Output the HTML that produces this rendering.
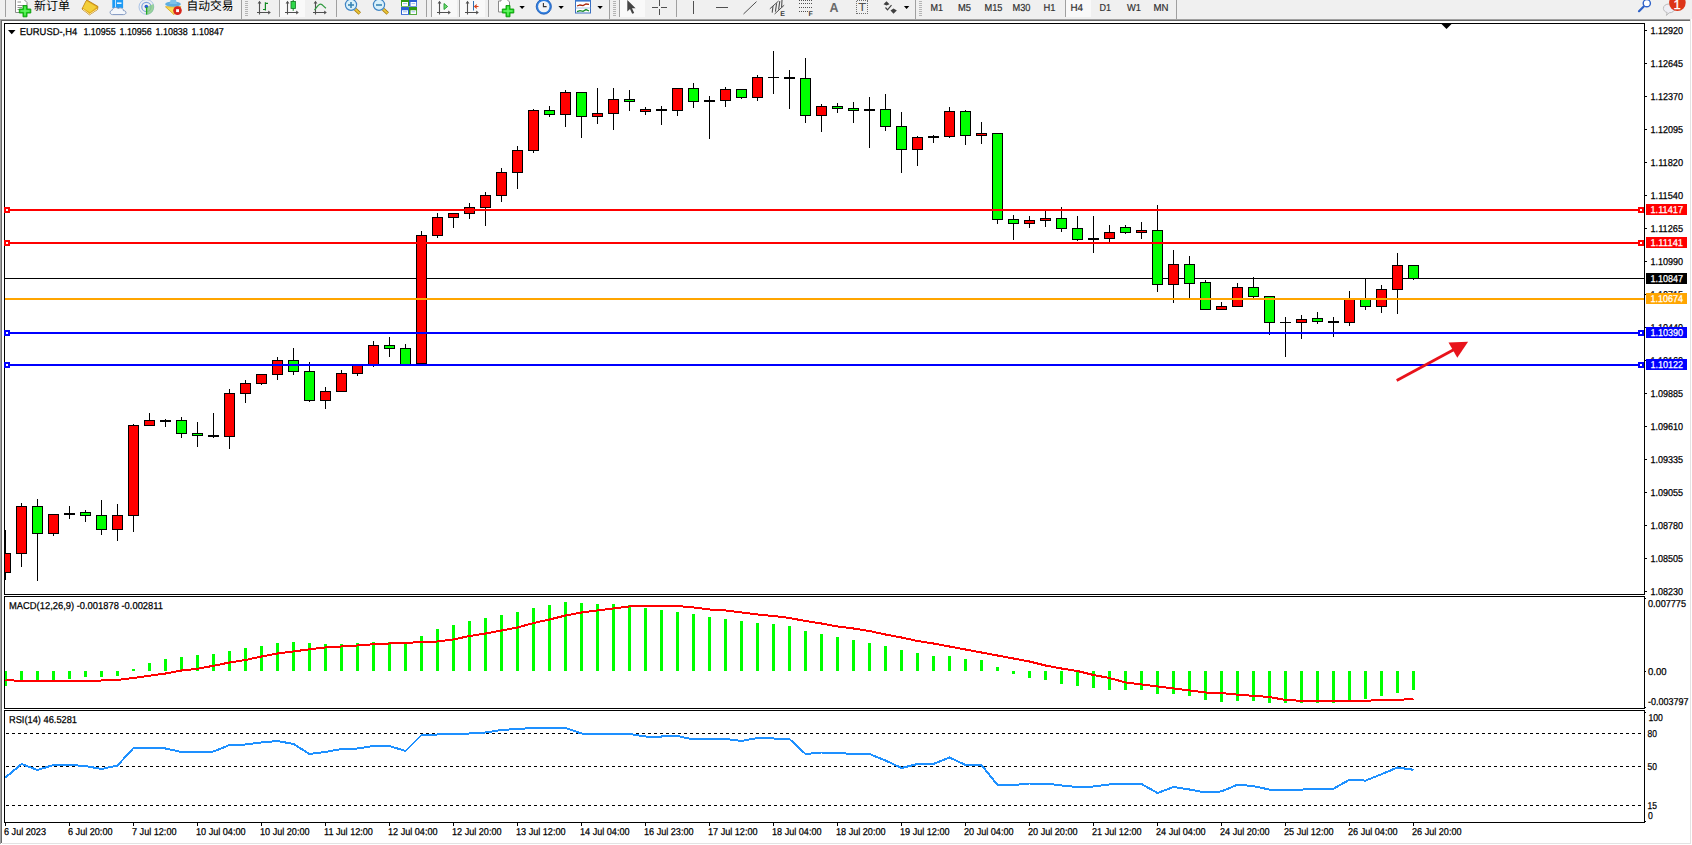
<!DOCTYPE html>
<html lang="zh"><head><meta charset="utf-8"><title>EURUSD-,H4</title>
<style>
html,body{margin:0;padding:0;background:#fff;overflow:hidden}
body{width:1692px;height:845px}
svg{display:block;font-family:"Liberation Sans","Noto Sans CJK SC",sans-serif}
#c rect,#c line,#c polyline{shape-rendering:crispEdges}
text{text-rendering:geometricPrecision}
#c text{stroke:currentColor;stroke-width:.25px}
</style></head><body>
<svg width="1692" height="845" viewBox="0 0 1692 845">
<g id="c">
<rect x="0" y="0" width="1692" height="845" fill="#fff"/>
<rect x="0" y="0" width="1692" height="19" fill="#f0f0f0"/>
<rect x="0" y="19" width="1690" height="1" fill="#a0a0a0"/>
<rect x="0" y="20" width="1690" height="1" fill="#696969"/>
<rect x="0" y="19" width="1" height="825" fill="#a0a0a0"/>
<rect x="1" y="20" width="1" height="823" fill="#696969"/>
<rect x="1690" y="19" width="1" height="825" fill="#e3e3e3"/>
<rect x="2" y="843" width="1689" height="1" fill="#e3e3e3"/>
<rect x="4" y="23" width="1641" height="1" fill="#000"/>
<rect x="4" y="23" width="1" height="572" fill="#000"/>
<rect x="4" y="596" width="1" height="113" fill="#000"/>
<rect x="4" y="710" width="1" height="113" fill="#000"/>
<rect x="1644" y="23" width="1" height="572" fill="#000"/>
<rect x="1644" y="596" width="1" height="113" fill="#000"/>
<rect x="1644" y="710" width="1" height="113" fill="#000"/>
<rect x="4" y="594" width="1641" height="1" fill="#000"/>
<rect x="4" y="596" width="1641" height="1" fill="#000"/>
<rect x="4" y="708" width="1641" height="1" fill="#000"/>
<rect x="4" y="710" width="1641" height="1" fill="#000"/>
<rect x="4" y="822" width="1641" height="1" fill="#000"/>
<rect x="5" y="278" width="1639" height="1" fill="#000"/>
<g id="candles">
<rect x="5" y="530" width="1" height="50" fill="#000"/>
<rect x="5" y="553" width="6" height="20" fill="#000"/>
<rect x="5" y="554" width="5" height="18" fill="#ff0000"/>
<rect x="21" y="503" width="1" height="64" fill="#000"/>
<rect x="16" y="506" width="11" height="48" fill="#000"/>
<rect x="17" y="507" width="9" height="46" fill="#ff0000"/>
<rect x="37" y="499" width="1" height="82" fill="#000"/>
<rect x="32" y="506" width="11" height="28" fill="#000"/>
<rect x="33" y="507" width="9" height="26" fill="#00ff00"/>
<rect x="53" y="514" width="1" height="22" fill="#000"/>
<rect x="48" y="514" width="11" height="20" fill="#000"/>
<rect x="49" y="515" width="9" height="18" fill="#ff0000"/>
<rect x="69" y="506" width="1" height="13" fill="#000"/>
<rect x="64" y="513" width="11" height="2" fill="#000"/>
<rect x="85" y="510" width="1" height="12" fill="#000"/>
<rect x="80" y="512" width="11" height="4" fill="#000"/>
<rect x="81" y="513" width="9" height="2" fill="#00ff00"/>
<rect x="101" y="500" width="1" height="35" fill="#000"/>
<rect x="96" y="515" width="11" height="15" fill="#000"/>
<rect x="97" y="516" width="9" height="13" fill="#00ff00"/>
<rect x="117" y="504" width="1" height="37" fill="#000"/>
<rect x="112" y="515" width="11" height="15" fill="#000"/>
<rect x="113" y="516" width="9" height="13" fill="#ff0000"/>
<rect x="133" y="424" width="1" height="108" fill="#000"/>
<rect x="128" y="425" width="11" height="91" fill="#000"/>
<rect x="129" y="426" width="9" height="89" fill="#ff0000"/>
<rect x="149" y="413" width="1" height="13" fill="#000"/>
<rect x="144" y="420" width="11" height="6" fill="#000"/>
<rect x="145" y="421" width="9" height="4" fill="#ff0000"/>
<rect x="165" y="419" width="1" height="8" fill="#000"/>
<rect x="160" y="420" width="11" height="2" fill="#000"/>
<rect x="181" y="417" width="1" height="21" fill="#000"/>
<rect x="176" y="420" width="11" height="14" fill="#000"/>
<rect x="177" y="421" width="9" height="12" fill="#00ff00"/>
<rect x="197" y="422" width="1" height="25" fill="#000"/>
<rect x="192" y="433" width="11" height="3" fill="#000"/>
<rect x="193" y="434" width="9" height="1" fill="#00ff00"/>
<rect x="213" y="413" width="1" height="25" fill="#000"/>
<rect x="208" y="435" width="11" height="2" fill="#000"/>
<rect x="229" y="389" width="1" height="60" fill="#000"/>
<rect x="224" y="393" width="11" height="44" fill="#000"/>
<rect x="225" y="394" width="9" height="42" fill="#ff0000"/>
<rect x="245" y="380" width="1" height="23" fill="#000"/>
<rect x="240" y="383" width="11" height="11" fill="#000"/>
<rect x="241" y="384" width="9" height="9" fill="#ff0000"/>
<rect x="261" y="374" width="1" height="11" fill="#000"/>
<rect x="256" y="374" width="11" height="10" fill="#000"/>
<rect x="257" y="375" width="9" height="8" fill="#ff0000"/>
<rect x="277" y="357" width="1" height="23" fill="#000"/>
<rect x="272" y="360" width="11" height="15" fill="#000"/>
<rect x="273" y="361" width="9" height="13" fill="#ff0000"/>
<rect x="293" y="348" width="1" height="27" fill="#000"/>
<rect x="288" y="360" width="11" height="12" fill="#000"/>
<rect x="289" y="361" width="9" height="10" fill="#00ff00"/>
<rect x="309" y="362" width="1" height="40" fill="#000"/>
<rect x="304" y="371" width="11" height="30" fill="#000"/>
<rect x="305" y="372" width="9" height="28" fill="#00ff00"/>
<rect x="325" y="387" width="1" height="22" fill="#000"/>
<rect x="320" y="391" width="11" height="10" fill="#000"/>
<rect x="321" y="392" width="9" height="8" fill="#ff0000"/>
<rect x="341" y="370" width="1" height="22" fill="#000"/>
<rect x="336" y="373" width="11" height="19" fill="#000"/>
<rect x="337" y="374" width="9" height="17" fill="#ff0000"/>
<rect x="357" y="364" width="1" height="12" fill="#000"/>
<rect x="352" y="364" width="11" height="10" fill="#000"/>
<rect x="353" y="365" width="9" height="8" fill="#ff0000"/>
<rect x="373" y="341" width="1" height="26" fill="#000"/>
<rect x="368" y="345" width="11" height="20" fill="#000"/>
<rect x="369" y="346" width="9" height="18" fill="#ff0000"/>
<rect x="389" y="337" width="1" height="20" fill="#000"/>
<rect x="384" y="345" width="11" height="4" fill="#000"/>
<rect x="385" y="346" width="9" height="2" fill="#00ff00"/>
<rect x="405" y="344" width="1" height="21" fill="#000"/>
<rect x="400" y="348" width="11" height="17" fill="#000"/>
<rect x="401" y="349" width="9" height="15" fill="#00ff00"/>
<rect x="421" y="231" width="1" height="133" fill="#000"/>
<rect x="416" y="235" width="11" height="129" fill="#000"/>
<rect x="417" y="236" width="9" height="127" fill="#ff0000"/>
<rect x="437" y="213" width="1" height="25" fill="#000"/>
<rect x="432" y="217" width="11" height="19" fill="#000"/>
<rect x="433" y="218" width="9" height="17" fill="#ff0000"/>
<rect x="453" y="213" width="1" height="15" fill="#000"/>
<rect x="448" y="213" width="11" height="5" fill="#000"/>
<rect x="449" y="214" width="9" height="3" fill="#ff0000"/>
<rect x="469" y="203" width="1" height="16" fill="#000"/>
<rect x="464" y="207" width="11" height="7" fill="#000"/>
<rect x="465" y="208" width="9" height="5" fill="#ff0000"/>
<rect x="485" y="192" width="1" height="34" fill="#000"/>
<rect x="480" y="195" width="11" height="13" fill="#000"/>
<rect x="481" y="196" width="9" height="11" fill="#ff0000"/>
<rect x="501" y="168" width="1" height="34" fill="#000"/>
<rect x="496" y="172" width="11" height="24" fill="#000"/>
<rect x="497" y="173" width="9" height="22" fill="#ff0000"/>
<rect x="517" y="146" width="1" height="43" fill="#000"/>
<rect x="512" y="150" width="11" height="23" fill="#000"/>
<rect x="513" y="151" width="9" height="21" fill="#ff0000"/>
<rect x="533" y="109" width="1" height="44" fill="#000"/>
<rect x="528" y="110" width="11" height="41" fill="#000"/>
<rect x="529" y="111" width="9" height="39" fill="#ff0000"/>
<rect x="549" y="106" width="1" height="11" fill="#000"/>
<rect x="544" y="110" width="11" height="5" fill="#000"/>
<rect x="545" y="111" width="9" height="3" fill="#00ff00"/>
<rect x="565" y="90" width="1" height="37" fill="#000"/>
<rect x="560" y="92" width="11" height="23" fill="#000"/>
<rect x="561" y="93" width="9" height="21" fill="#ff0000"/>
<rect x="581" y="92" width="1" height="46" fill="#000"/>
<rect x="576" y="92" width="11" height="25" fill="#000"/>
<rect x="577" y="93" width="9" height="23" fill="#00ff00"/>
<rect x="597" y="88" width="1" height="36" fill="#000"/>
<rect x="592" y="113" width="11" height="4" fill="#000"/>
<rect x="593" y="114" width="9" height="2" fill="#ff0000"/>
<rect x="613" y="88" width="1" height="42" fill="#000"/>
<rect x="608" y="99" width="11" height="15" fill="#000"/>
<rect x="609" y="100" width="9" height="13" fill="#ff0000"/>
<rect x="629" y="90" width="1" height="21" fill="#000"/>
<rect x="624" y="99" width="11" height="3" fill="#000"/>
<rect x="625" y="100" width="9" height="1" fill="#00ff00"/>
<rect x="645" y="107" width="1" height="8" fill="#000"/>
<rect x="640" y="109" width="11" height="3" fill="#000"/>
<rect x="641" y="110" width="9" height="1" fill="#ff0000"/>
<rect x="661" y="106" width="1" height="19" fill="#000"/>
<rect x="656" y="109" width="11" height="2" fill="#000"/>
<rect x="677" y="88" width="1" height="28" fill="#000"/>
<rect x="672" y="88" width="11" height="23" fill="#000"/>
<rect x="673" y="89" width="9" height="21" fill="#ff0000"/>
<rect x="693" y="83" width="1" height="25" fill="#000"/>
<rect x="688" y="88" width="11" height="14" fill="#000"/>
<rect x="689" y="89" width="9" height="12" fill="#00ff00"/>
<rect x="709" y="96" width="1" height="43" fill="#000"/>
<rect x="704" y="100" width="11" height="2" fill="#000"/>
<rect x="725" y="87" width="1" height="20" fill="#000"/>
<rect x="720" y="89" width="11" height="12" fill="#000"/>
<rect x="721" y="90" width="9" height="10" fill="#ff0000"/>
<rect x="741" y="89" width="1" height="10" fill="#000"/>
<rect x="736" y="89" width="11" height="9" fill="#000"/>
<rect x="737" y="90" width="9" height="7" fill="#00ff00"/>
<rect x="757" y="75" width="1" height="26" fill="#000"/>
<rect x="752" y="77" width="11" height="21" fill="#000"/>
<rect x="753" y="78" width="9" height="19" fill="#ff0000"/>
<rect x="773" y="51" width="1" height="43" fill="#000"/>
<rect x="768" y="77" width="11" height="1" fill="#000"/>
<rect x="789" y="70" width="1" height="39" fill="#000"/>
<rect x="784" y="77" width="11" height="2" fill="#000"/>
<rect x="805" y="58" width="1" height="65" fill="#000"/>
<rect x="800" y="78" width="11" height="38" fill="#000"/>
<rect x="801" y="79" width="9" height="36" fill="#00ff00"/>
<rect x="821" y="104" width="1" height="28" fill="#000"/>
<rect x="816" y="106" width="11" height="10" fill="#000"/>
<rect x="817" y="107" width="9" height="8" fill="#ff0000"/>
<rect x="837" y="103" width="1" height="10" fill="#000"/>
<rect x="832" y="106" width="11" height="3" fill="#000"/>
<rect x="833" y="107" width="9" height="1" fill="#00ff00"/>
<rect x="853" y="102" width="1" height="21" fill="#000"/>
<rect x="848" y="108" width="11" height="3" fill="#000"/>
<rect x="849" y="109" width="9" height="1" fill="#00ff00"/>
<rect x="869" y="97" width="1" height="51" fill="#000"/>
<rect x="864" y="109" width="11" height="2" fill="#000"/>
<rect x="885" y="94" width="1" height="37" fill="#000"/>
<rect x="880" y="109" width="11" height="18" fill="#000"/>
<rect x="881" y="110" width="9" height="16" fill="#00ff00"/>
<rect x="901" y="112" width="1" height="61" fill="#000"/>
<rect x="896" y="126" width="11" height="24" fill="#000"/>
<rect x="897" y="127" width="9" height="22" fill="#00ff00"/>
<rect x="917" y="136" width="1" height="30" fill="#000"/>
<rect x="912" y="137" width="11" height="13" fill="#000"/>
<rect x="913" y="138" width="9" height="11" fill="#ff0000"/>
<rect x="933" y="135" width="1" height="8" fill="#000"/>
<rect x="928" y="136" width="11" height="2" fill="#000"/>
<rect x="949" y="107" width="1" height="31" fill="#000"/>
<rect x="944" y="111" width="11" height="26" fill="#000"/>
<rect x="945" y="112" width="9" height="24" fill="#ff0000"/>
<rect x="965" y="110" width="1" height="35" fill="#000"/>
<rect x="960" y="111" width="11" height="25" fill="#000"/>
<rect x="961" y="112" width="9" height="23" fill="#00ff00"/>
<rect x="981" y="122" width="1" height="22" fill="#000"/>
<rect x="976" y="133" width="11" height="3" fill="#000"/>
<rect x="977" y="134" width="9" height="1" fill="#ff0000"/>
<rect x="997" y="133" width="1" height="91" fill="#000"/>
<rect x="992" y="133" width="11" height="87" fill="#000"/>
<rect x="993" y="134" width="9" height="85" fill="#00ff00"/>
<rect x="1013" y="215" width="1" height="25" fill="#000"/>
<rect x="1008" y="219" width="11" height="5" fill="#000"/>
<rect x="1009" y="220" width="9" height="3" fill="#00ff00"/>
<rect x="1029" y="216" width="1" height="12" fill="#000"/>
<rect x="1024" y="220" width="11" height="4" fill="#000"/>
<rect x="1025" y="221" width="9" height="2" fill="#ff0000"/>
<rect x="1045" y="211" width="1" height="16" fill="#000"/>
<rect x="1040" y="218" width="11" height="3" fill="#000"/>
<rect x="1041" y="219" width="9" height="1" fill="#ff0000"/>
<rect x="1061" y="207" width="1" height="25" fill="#000"/>
<rect x="1056" y="218" width="11" height="11" fill="#000"/>
<rect x="1057" y="219" width="9" height="9" fill="#00ff00"/>
<rect x="1077" y="216" width="1" height="25" fill="#000"/>
<rect x="1072" y="228" width="11" height="12" fill="#000"/>
<rect x="1073" y="229" width="9" height="10" fill="#00ff00"/>
<rect x="1093" y="216" width="1" height="37" fill="#000"/>
<rect x="1088" y="238" width="11" height="2" fill="#000"/>
<rect x="1109" y="225" width="1" height="17" fill="#000"/>
<rect x="1104" y="232" width="11" height="7" fill="#000"/>
<rect x="1105" y="233" width="9" height="5" fill="#ff0000"/>
<rect x="1125" y="225" width="1" height="9" fill="#000"/>
<rect x="1120" y="227" width="11" height="6" fill="#000"/>
<rect x="1121" y="228" width="9" height="4" fill="#00ff00"/>
<rect x="1141" y="222" width="1" height="17" fill="#000"/>
<rect x="1136" y="230" width="11" height="3" fill="#000"/>
<rect x="1137" y="231" width="9" height="1" fill="#ff0000"/>
<rect x="1157" y="205" width="1" height="87" fill="#000"/>
<rect x="1152" y="230" width="11" height="55" fill="#000"/>
<rect x="1153" y="231" width="9" height="53" fill="#00ff00"/>
<rect x="1173" y="250" width="1" height="53" fill="#000"/>
<rect x="1168" y="264" width="11" height="21" fill="#000"/>
<rect x="1169" y="265" width="9" height="19" fill="#ff0000"/>
<rect x="1189" y="256" width="1" height="42" fill="#000"/>
<rect x="1184" y="264" width="11" height="20" fill="#000"/>
<rect x="1185" y="265" width="9" height="18" fill="#00ff00"/>
<rect x="1205" y="280" width="1" height="30" fill="#000"/>
<rect x="1200" y="282" width="11" height="28" fill="#000"/>
<rect x="1201" y="283" width="9" height="26" fill="#00ff00"/>
<rect x="1221" y="302" width="1" height="8" fill="#000"/>
<rect x="1216" y="306" width="11" height="4" fill="#000"/>
<rect x="1217" y="307" width="9" height="2" fill="#ff0000"/>
<rect x="1237" y="283" width="1" height="24" fill="#000"/>
<rect x="1232" y="287" width="11" height="20" fill="#000"/>
<rect x="1233" y="288" width="9" height="18" fill="#ff0000"/>
<rect x="1253" y="277" width="1" height="21" fill="#000"/>
<rect x="1248" y="287" width="11" height="10" fill="#000"/>
<rect x="1249" y="288" width="9" height="8" fill="#00ff00"/>
<rect x="1269" y="296" width="1" height="39" fill="#000"/>
<rect x="1264" y="296" width="11" height="27" fill="#000"/>
<rect x="1265" y="297" width="9" height="25" fill="#00ff00"/>
<rect x="1285" y="317" width="1" height="40" fill="#000"/>
<rect x="1280" y="322" width="11" height="1" fill="#000"/>
<rect x="1301" y="315" width="1" height="24" fill="#000"/>
<rect x="1296" y="319" width="11" height="4" fill="#000"/>
<rect x="1297" y="320" width="9" height="2" fill="#ff0000"/>
<rect x="1317" y="312" width="1" height="12" fill="#000"/>
<rect x="1312" y="318" width="11" height="4" fill="#000"/>
<rect x="1313" y="319" width="9" height="2" fill="#00ff00"/>
<rect x="1333" y="317" width="1" height="20" fill="#000"/>
<rect x="1328" y="321" width="11" height="2" fill="#000"/>
<rect x="1349" y="291" width="1" height="35" fill="#000"/>
<rect x="1344" y="298" width="11" height="25" fill="#000"/>
<rect x="1345" y="299" width="9" height="23" fill="#ff0000"/>
<rect x="1365" y="278" width="1" height="32" fill="#000"/>
<rect x="1360" y="298" width="11" height="9" fill="#000"/>
<rect x="1361" y="299" width="9" height="7" fill="#00ff00"/>
<rect x="1381" y="285" width="1" height="28" fill="#000"/>
<rect x="1376" y="289" width="11" height="18" fill="#000"/>
<rect x="1377" y="290" width="9" height="16" fill="#ff0000"/>
<rect x="1397" y="253" width="1" height="61" fill="#000"/>
<rect x="1392" y="265" width="11" height="25" fill="#000"/>
<rect x="1393" y="266" width="9" height="23" fill="#ff0000"/>
<rect x="1413" y="265" width="1" height="15" fill="#000"/>
<rect x="1408" y="265" width="11" height="14" fill="#000"/>
<rect x="1409" y="266" width="9" height="12" fill="#00ff00"/>
</g>
<rect x="5" y="209" width="1639" height="2" fill="#ff0000"/>
<rect x="4" y="207" width="6" height="6" fill="#ff0000"/>
<rect x="6" y="209" width="2" height="2" fill="#fff"/>
<rect x="1638" y="207" width="6" height="6" fill="#ff0000"/>
<rect x="1640" y="209" width="2" height="2" fill="#fff"/>
<rect x="5" y="242" width="1639" height="2" fill="#ff0000"/>
<rect x="4" y="240" width="6" height="6" fill="#ff0000"/>
<rect x="6" y="242" width="2" height="2" fill="#fff"/>
<rect x="1638" y="240" width="6" height="6" fill="#ff0000"/>
<rect x="1640" y="242" width="2" height="2" fill="#fff"/>
<rect x="5" y="298" width="1639" height="2" fill="#ffa500"/>
<rect x="5" y="332" width="1639" height="2" fill="#0000ff"/>
<rect x="4" y="330" width="6" height="6" fill="#0000ff"/>
<rect x="6" y="332" width="2" height="2" fill="#fff"/>
<rect x="1638" y="330" width="6" height="6" fill="#0000ff"/>
<rect x="1640" y="332" width="2" height="2" fill="#fff"/>
<rect x="5" y="364" width="1639" height="2" fill="#0000ff"/>
<rect x="4" y="362" width="6" height="6" fill="#0000ff"/>
<rect x="6" y="364" width="2" height="2" fill="#fff"/>
<rect x="1638" y="362" width="6" height="6" fill="#0000ff"/>
<rect x="1640" y="364" width="2" height="2" fill="#fff"/>
<line x1="1396.7" y1="380.4" x2="1455" y2="349" stroke="#e8131b" stroke-width="2.8" style="shape-rendering:geometricPrecision"/>
<polygon points="1448.5,342.4 1468.1,341.7 1457.3,357.8" fill="#e8131b"/>
<polygon points="1441.5,24 1451.5,24 1446.5,29" fill="#000"/>
<rect x="1645" y="30" width="2" height="1" fill="#000"/>
<text x="1650.50" y="34.00" font-size="10" fill="#000" color="#000" textLength="32.60" lengthAdjust="spacingAndGlyphs">1.12920</text>
<rect x="1645" y="63" width="2" height="1" fill="#000"/>
<text x="1650.50" y="67.00" font-size="10" fill="#000" color="#000" textLength="32.60" lengthAdjust="spacingAndGlyphs">1.12645</text>
<rect x="1645" y="96" width="2" height="1" fill="#000"/>
<text x="1650.50" y="100.00" font-size="10" fill="#000" color="#000" textLength="32.60" lengthAdjust="spacingAndGlyphs">1.12370</text>
<rect x="1645" y="129" width="2" height="1" fill="#000"/>
<text x="1650.50" y="133.00" font-size="10" fill="#000" color="#000" textLength="32.60" lengthAdjust="spacingAndGlyphs">1.12095</text>
<rect x="1645" y="162" width="2" height="1" fill="#000"/>
<text x="1650.50" y="166.00" font-size="10" fill="#000" color="#000" textLength="32.60" lengthAdjust="spacingAndGlyphs">1.11820</text>
<rect x="1645" y="195" width="2" height="1" fill="#000"/>
<text x="1650.50" y="199.00" font-size="10" fill="#000" color="#000" textLength="32.60" lengthAdjust="spacingAndGlyphs">1.11540</text>
<rect x="1645" y="228" width="2" height="1" fill="#000"/>
<text x="1650.50" y="232.00" font-size="10" fill="#000" color="#000" textLength="32.60" lengthAdjust="spacingAndGlyphs">1.11265</text>
<rect x="1645" y="261" width="2" height="1" fill="#000"/>
<text x="1650.50" y="265.00" font-size="10" fill="#000" color="#000" textLength="32.60" lengthAdjust="spacingAndGlyphs">1.10990</text>
<rect x="1645" y="294" width="2" height="1" fill="#000"/>
<text x="1650.50" y="298.00" font-size="10" fill="#000" color="#000" textLength="32.60" lengthAdjust="spacingAndGlyphs">1.10715</text>
<rect x="1645" y="327" width="2" height="1" fill="#000"/>
<text x="1650.50" y="331.00" font-size="10" fill="#000" color="#000" textLength="32.60" lengthAdjust="spacingAndGlyphs">1.10440</text>
<rect x="1645" y="360" width="2" height="1" fill="#000"/>
<text x="1650.50" y="364.00" font-size="10" fill="#000" color="#000" textLength="32.60" lengthAdjust="spacingAndGlyphs">1.10160</text>
<rect x="1645" y="393" width="2" height="1" fill="#000"/>
<text x="1650.50" y="397.00" font-size="10" fill="#000" color="#000" textLength="32.60" lengthAdjust="spacingAndGlyphs">1.09885</text>
<rect x="1645" y="426" width="2" height="1" fill="#000"/>
<text x="1650.50" y="430.00" font-size="10" fill="#000" color="#000" textLength="32.60" lengthAdjust="spacingAndGlyphs">1.09610</text>
<rect x="1645" y="459" width="2" height="1" fill="#000"/>
<text x="1650.50" y="463.00" font-size="10" fill="#000" color="#000" textLength="32.60" lengthAdjust="spacingAndGlyphs">1.09335</text>
<rect x="1645" y="492" width="2" height="1" fill="#000"/>
<text x="1650.50" y="496.00" font-size="10" fill="#000" color="#000" textLength="32.60" lengthAdjust="spacingAndGlyphs">1.09055</text>
<rect x="1645" y="525" width="2" height="1" fill="#000"/>
<text x="1650.50" y="529.00" font-size="10" fill="#000" color="#000" textLength="32.60" lengthAdjust="spacingAndGlyphs">1.08780</text>
<rect x="1645" y="558" width="2" height="1" fill="#000"/>
<text x="1650.50" y="562.00" font-size="10" fill="#000" color="#000" textLength="32.60" lengthAdjust="spacingAndGlyphs">1.08505</text>
<rect x="1645" y="591" width="2" height="1" fill="#000"/>
<text x="1650.50" y="595.00" font-size="10" fill="#000" color="#000" textLength="32.60" lengthAdjust="spacingAndGlyphs">1.08230</text>
<rect x="1646" y="204" width="41" height="11" fill="#ff0000"/>
<text x="1650.50" y="213.00" font-size="10" fill="#fff" color="#fff" textLength="32.60" lengthAdjust="spacingAndGlyphs">1.11417</text>
<rect x="1646" y="237" width="41" height="11" fill="#ff0000"/>
<text x="1650.50" y="246.00" font-size="10" fill="#fff" color="#fff" textLength="32.60" lengthAdjust="spacingAndGlyphs">1.11141</text>
<rect x="1646" y="273" width="41" height="11" fill="#000000"/>
<text x="1650.50" y="282.00" font-size="10" fill="#fff" color="#fff" textLength="32.60" lengthAdjust="spacingAndGlyphs">1.10847</text>
<rect x="1646" y="293" width="41" height="11" fill="#ffa500"/>
<text x="1650.50" y="302.00" font-size="10" fill="#fff" color="#fff" textLength="32.60" lengthAdjust="spacingAndGlyphs">1.10674</text>
<rect x="1646" y="327" width="41" height="11" fill="#0000ff"/>
<text x="1650.50" y="336.00" font-size="10" fill="#fff" color="#fff" textLength="32.60" lengthAdjust="spacingAndGlyphs">1.10390</text>
<rect x="1646" y="359" width="41" height="11" fill="#0000ff"/>
<text x="1650.50" y="368.00" font-size="10" fill="#fff" color="#fff" textLength="32.60" lengthAdjust="spacingAndGlyphs">1.10122</text>
<polygon points="8,30 15.5,30 11.75,34.2" fill="#000"/>
<text x="19.80" y="35.00" font-size="10" fill="#000" color="#000" textLength="57.40" lengthAdjust="spacingAndGlyphs">EURUSD-,H4</text>
<text x="83.40" y="35.00" font-size="10" fill="#000" color="#000" textLength="32.30" lengthAdjust="spacingAndGlyphs">1.10955</text>
<text x="119.45" y="35.00" font-size="10" fill="#000" color="#000" textLength="32.30" lengthAdjust="spacingAndGlyphs">1.10956</text>
<text x="155.50" y="35.00" font-size="10" fill="#000" color="#000" textLength="32.30" lengthAdjust="spacingAndGlyphs">1.10838</text>
<text x="191.55" y="35.00" font-size="10" fill="#000" color="#000" textLength="32.30" lengthAdjust="spacingAndGlyphs">1.10847</text>
<g id="macd">
<rect x="5" y="671" width="2" height="15" fill="#00ff00"/>
<rect x="20" y="671" width="3" height="11" fill="#00ff00"/>
<rect x="36" y="671" width="3" height="9" fill="#00ff00"/>
<rect x="52" y="671" width="3" height="9" fill="#00ff00"/>
<rect x="68" y="671" width="3" height="8" fill="#00ff00"/>
<rect x="84" y="671" width="3" height="6" fill="#00ff00"/>
<rect x="100" y="671" width="3" height="6" fill="#00ff00"/>
<rect x="116" y="671" width="3" height="5" fill="#00ff00"/>
<rect x="132" y="669" width="3" height="2" fill="#00ff00"/>
<rect x="148" y="663" width="3" height="8" fill="#00ff00"/>
<rect x="164" y="659" width="3" height="12" fill="#00ff00"/>
<rect x="180" y="657" width="3" height="14" fill="#00ff00"/>
<rect x="196" y="655" width="3" height="16" fill="#00ff00"/>
<rect x="212" y="654" width="3" height="17" fill="#00ff00"/>
<rect x="228" y="651" width="3" height="20" fill="#00ff00"/>
<rect x="244" y="648" width="3" height="23" fill="#00ff00"/>
<rect x="260" y="646" width="3" height="25" fill="#00ff00"/>
<rect x="276" y="643" width="3" height="28" fill="#00ff00"/>
<rect x="292" y="642" width="3" height="29" fill="#00ff00"/>
<rect x="308" y="643" width="3" height="28" fill="#00ff00"/>
<rect x="324" y="644" width="3" height="27" fill="#00ff00"/>
<rect x="340" y="644" width="3" height="27" fill="#00ff00"/>
<rect x="356" y="643" width="3" height="28" fill="#00ff00"/>
<rect x="372" y="642" width="3" height="29" fill="#00ff00"/>
<rect x="388" y="642" width="3" height="29" fill="#00ff00"/>
<rect x="404" y="644" width="3" height="27" fill="#00ff00"/>
<rect x="420" y="636" width="3" height="35" fill="#00ff00"/>
<rect x="436" y="629" width="3" height="42" fill="#00ff00"/>
<rect x="452" y="625" width="3" height="46" fill="#00ff00"/>
<rect x="468" y="621" width="3" height="50" fill="#00ff00"/>
<rect x="484" y="618" width="3" height="53" fill="#00ff00"/>
<rect x="500" y="615" width="3" height="56" fill="#00ff00"/>
<rect x="516" y="612" width="3" height="59" fill="#00ff00"/>
<rect x="532" y="608" width="3" height="63" fill="#00ff00"/>
<rect x="548" y="605" width="3" height="66" fill="#00ff00"/>
<rect x="564" y="602" width="3" height="69" fill="#00ff00"/>
<rect x="580" y="603" width="3" height="68" fill="#00ff00"/>
<rect x="596" y="604" width="3" height="67" fill="#00ff00"/>
<rect x="612" y="604" width="3" height="67" fill="#00ff00"/>
<rect x="628" y="605" width="3" height="66" fill="#00ff00"/>
<rect x="644" y="608" width="3" height="63" fill="#00ff00"/>
<rect x="660" y="610" width="3" height="61" fill="#00ff00"/>
<rect x="676" y="612" width="3" height="59" fill="#00ff00"/>
<rect x="692" y="614" width="3" height="57" fill="#00ff00"/>
<rect x="708" y="617" width="3" height="54" fill="#00ff00"/>
<rect x="724" y="619" width="3" height="52" fill="#00ff00"/>
<rect x="740" y="621" width="3" height="50" fill="#00ff00"/>
<rect x="756" y="623" width="3" height="48" fill="#00ff00"/>
<rect x="772" y="624" width="3" height="47" fill="#00ff00"/>
<rect x="788" y="626" width="3" height="45" fill="#00ff00"/>
<rect x="804" y="631" width="3" height="40" fill="#00ff00"/>
<rect x="820" y="634" width="3" height="37" fill="#00ff00"/>
<rect x="836" y="637" width="3" height="34" fill="#00ff00"/>
<rect x="852" y="640" width="3" height="31" fill="#00ff00"/>
<rect x="868" y="643" width="3" height="28" fill="#00ff00"/>
<rect x="884" y="646" width="3" height="25" fill="#00ff00"/>
<rect x="900" y="650" width="3" height="21" fill="#00ff00"/>
<rect x="916" y="653" width="3" height="18" fill="#00ff00"/>
<rect x="932" y="656" width="3" height="15" fill="#00ff00"/>
<rect x="948" y="656" width="3" height="15" fill="#00ff00"/>
<rect x="964" y="659" width="3" height="12" fill="#00ff00"/>
<rect x="980" y="660" width="3" height="11" fill="#00ff00"/>
<rect x="996" y="667" width="3" height="4" fill="#00ff00"/>
<rect x="1012" y="671" width="3" height="3" fill="#00ff00"/>
<rect x="1028" y="671" width="3" height="7" fill="#00ff00"/>
<rect x="1044" y="671" width="3" height="9" fill="#00ff00"/>
<rect x="1060" y="671" width="3" height="13" fill="#00ff00"/>
<rect x="1076" y="671" width="3" height="15" fill="#00ff00"/>
<rect x="1092" y="671" width="3" height="17" fill="#00ff00"/>
<rect x="1108" y="671" width="3" height="19" fill="#00ff00"/>
<rect x="1124" y="671" width="3" height="19" fill="#00ff00"/>
<rect x="1140" y="671" width="3" height="19" fill="#00ff00"/>
<rect x="1156" y="671" width="3" height="23" fill="#00ff00"/>
<rect x="1172" y="671" width="3" height="23" fill="#00ff00"/>
<rect x="1188" y="671" width="3" height="25" fill="#00ff00"/>
<rect x="1204" y="671" width="3" height="29" fill="#00ff00"/>
<rect x="1220" y="671" width="3" height="31" fill="#00ff00"/>
<rect x="1236" y="671" width="3" height="30" fill="#00ff00"/>
<rect x="1252" y="671" width="3" height="30" fill="#00ff00"/>
<rect x="1268" y="671" width="3" height="32" fill="#00ff00"/>
<rect x="1284" y="671" width="3" height="32" fill="#00ff00"/>
<rect x="1300" y="671" width="3" height="32" fill="#00ff00"/>
<rect x="1316" y="671" width="3" height="32" fill="#00ff00"/>
<rect x="1332" y="671" width="3" height="32" fill="#00ff00"/>
<rect x="1348" y="671" width="3" height="30" fill="#00ff00"/>
<rect x="1364" y="671" width="3" height="28" fill="#00ff00"/>
<rect x="1380" y="671" width="3" height="25" fill="#00ff00"/>
<rect x="1396" y="671" width="3" height="22" fill="#00ff00"/>
<rect x="1412" y="671" width="3" height="19" fill="#00ff00"/>
<polyline points="5.5,680 21.5,681 37.5,681 53.5,681 69.5,681 85.5,681 101.5,680.5 117.5,680 133.5,678 149.5,675.75 165.5,673.5 181.5,670.5 197.5,668.75 213.5,665.75 229.5,662.5 245.5,660 261.5,656.5 277.5,653.5 293.5,651.5 309.5,649.25 325.5,647.5 341.5,646.5 357.5,645.5 373.5,644.25 389.5,643.5 405.5,643 421.5,642 437.5,641.5 453.5,639.5 469.5,636 485.5,633.5 501.5,630.5 517.5,627.5 533.5,623 549.5,619.5 565.5,615.5 581.5,612.5 597.5,610.5 613.5,608.5 629.5,606.5 645.5,606 661.5,606 677.5,606 693.5,607.5 709.5,609.5 725.5,610.5 741.5,612.5 757.5,614.5 773.5,616 789.5,618 805.5,621 821.5,623.5 837.5,626.5 853.5,628.5 869.5,631 885.5,634.5 901.5,637.5 917.5,641 933.5,643.5 949.5,646.5 965.5,649.5 981.5,652.5 997.5,655.5 1013.5,658.5 1029.5,661.5 1045.5,665.5 1061.5,668.5 1077.5,671 1093.5,675 1109.5,678 1125.5,682.5 1141.5,684.5 1157.5,686.5 1173.5,688.5 1189.5,690.5 1205.5,692.5 1221.5,693 1237.5,694.7 1253.5,695.8 1269.5,697 1285.5,700 1301.5,700.8 1317.5,700.8 1333.5,700.8 1349.5,700.8 1365.5,700.8 1381.5,700 1397.5,700 1413.5,698.8" fill="none" stroke="#ff0000" stroke-width="2" stroke-linejoin="round"/>
</g>
<text x="9.00" y="609.00" font-size="10" fill="#000" color="#000" textLength="154.00" lengthAdjust="spacingAndGlyphs">MACD(12,26,9) -0.001878 -0.002811</text>
<rect x="1645" y="598" width="1" height="1" fill="#000"/>
<rect x="1645" y="671" width="1" height="1" fill="#000"/>
<rect x="1645" y="707" width="1" height="1" fill="#000"/>
<text x="1648.00" y="607.00" font-size="10" fill="#000" color="#000" textLength="38.00" lengthAdjust="spacingAndGlyphs">0.007775</text>
<text x="1648.00" y="675.00" font-size="10" fill="#000" color="#000" textLength="18.50" lengthAdjust="spacingAndGlyphs">0.00</text>
<text x="1648.00" y="705.00" font-size="10" fill="#000" color="#000" textLength="40.40" lengthAdjust="spacingAndGlyphs">-0.003797</text>
<g id="rsi">
<line x1="6" y1="733.5" x2="1644" y2="733.5" stroke="#000" stroke-width="1" stroke-dasharray="3 3"/>
<line x1="6" y1="766.5" x2="1644" y2="766.5" stroke="#000" stroke-width="1" stroke-dasharray="3 3"/>
<line x1="6" y1="805.5" x2="1644" y2="805.5" stroke="#000" stroke-width="1" stroke-dasharray="3 3"/>
<polyline points="5.5,777.5 21.5,764 37.5,770 53.5,765 69.5,765 85.5,766 101.5,769 117.5,765.5 133.5,748 149.5,748 165.5,748.5 181.5,752 197.5,752 213.5,751.5 229.5,745 245.5,744.5 261.5,742.5 277.5,741 293.5,744 309.5,754 325.5,752 341.5,749 357.5,748.5 373.5,746 389.5,746 405.5,751 421.5,735 437.5,734.5 453.5,734 469.5,733.5 485.5,732.5 501.5,730 517.5,729 533.5,728 549.5,728 565.5,728 581.5,733.5 597.5,734 613.5,734 629.5,734 645.5,736.5 661.5,736.5 677.5,736 693.5,739.5 709.5,739 725.5,739 741.5,741 757.5,738 773.5,738.5 789.5,739 805.5,754 821.5,752.5 837.5,753 853.5,754 869.5,754 885.5,760.5 901.5,768 917.5,764 933.5,764 949.5,757.5 965.5,765 981.5,765 997.5,785 1013.5,785 1029.5,783.5 1045.5,783.5 1061.5,785.5 1077.5,787 1093.5,786.5 1109.5,784.5 1125.5,784 1141.5,784 1157.5,793 1173.5,787 1189.5,789.5 1205.5,792.5 1221.5,791.4 1237.5,784.7 1253.5,786.1 1269.5,789.6 1285.5,789.6 1301.5,789.6 1317.5,788.7 1333.5,788.7 1349.5,779.7 1365.5,780.6 1381.5,774.2 1397.5,767.5 1413.5,769.8" fill="none" stroke="#1e90ff" stroke-width="2" stroke-linejoin="round"/>
</g>
<text x="9.00" y="723.00" font-size="10" fill="#000" color="#000" textLength="68.00" lengthAdjust="spacingAndGlyphs">RSI(14) 46.5281</text>
<rect x="1645" y="712" width="1" height="1" fill="#000"/>
<rect x="1645" y="821" width="1" height="1" fill="#000"/>
<text x="1648.50" y="721.00" font-size="10" fill="#000" color="#000" textLength="14.40" lengthAdjust="spacingAndGlyphs">100</text>
<text x="1647.50" y="737.00" font-size="10" fill="#000" color="#000" textLength="9.40" lengthAdjust="spacingAndGlyphs">80</text>
<text x="1647.50" y="770.00" font-size="10" fill="#000" color="#000" textLength="9.40" lengthAdjust="spacingAndGlyphs">50</text>
<text x="1647.50" y="809.00" font-size="10" fill="#000" color="#000" textLength="9.40" lengthAdjust="spacingAndGlyphs">15</text>
<text x="1648.00" y="819.00" font-size="10" fill="#000" color="#000" textLength="4.80" lengthAdjust="spacingAndGlyphs">0</text>
<rect x="5" y="823" width="1" height="3" fill="#000"/>
<text x="4.00" y="835.00" font-size="10" fill="#000" color="#000" textLength="41.99" lengthAdjust="spacingAndGlyphs">6 Jul 2023</text>
<rect x="69" y="823" width="1" height="3" fill="#000"/>
<text x="68.00" y="835.00" font-size="10" fill="#000" color="#000" textLength="44.52" lengthAdjust="spacingAndGlyphs">6 Jul 20:00</text>
<rect x="133" y="823" width="1" height="3" fill="#000"/>
<text x="132.00" y="835.00" font-size="10" fill="#000" color="#000" textLength="44.52" lengthAdjust="spacingAndGlyphs">7 Jul 12:00</text>
<rect x="197" y="823" width="1" height="3" fill="#000"/>
<text x="196.00" y="835.00" font-size="10" fill="#000" color="#000" textLength="49.58" lengthAdjust="spacingAndGlyphs">10 Jul 04:00</text>
<rect x="261" y="823" width="1" height="3" fill="#000"/>
<text x="260.00" y="835.00" font-size="10" fill="#000" color="#000" textLength="49.58" lengthAdjust="spacingAndGlyphs">10 Jul 20:00</text>
<rect x="325" y="823" width="1" height="3" fill="#000"/>
<text x="324.00" y="835.00" font-size="10" fill="#000" color="#000" textLength="48.90" lengthAdjust="spacingAndGlyphs">11 Jul 12:00</text>
<rect x="389" y="823" width="1" height="3" fill="#000"/>
<text x="388.00" y="835.00" font-size="10" fill="#000" color="#000" textLength="49.58" lengthAdjust="spacingAndGlyphs">12 Jul 04:00</text>
<rect x="453" y="823" width="1" height="3" fill="#000"/>
<text x="452.00" y="835.00" font-size="10" fill="#000" color="#000" textLength="49.58" lengthAdjust="spacingAndGlyphs">12 Jul 20:00</text>
<rect x="517" y="823" width="1" height="3" fill="#000"/>
<text x="516.00" y="835.00" font-size="10" fill="#000" color="#000" textLength="49.58" lengthAdjust="spacingAndGlyphs">13 Jul 12:00</text>
<rect x="581" y="823" width="1" height="3" fill="#000"/>
<text x="580.00" y="835.00" font-size="10" fill="#000" color="#000" textLength="49.58" lengthAdjust="spacingAndGlyphs">14 Jul 04:00</text>
<rect x="645" y="823" width="1" height="3" fill="#000"/>
<text x="644.00" y="835.00" font-size="10" fill="#000" color="#000" textLength="49.58" lengthAdjust="spacingAndGlyphs">16 Jul 23:00</text>
<rect x="709" y="823" width="1" height="3" fill="#000"/>
<text x="708.00" y="835.00" font-size="10" fill="#000" color="#000" textLength="49.58" lengthAdjust="spacingAndGlyphs">17 Jul 12:00</text>
<rect x="773" y="823" width="1" height="3" fill="#000"/>
<text x="772.00" y="835.00" font-size="10" fill="#000" color="#000" textLength="49.58" lengthAdjust="spacingAndGlyphs">18 Jul 04:00</text>
<rect x="837" y="823" width="1" height="3" fill="#000"/>
<text x="836.00" y="835.00" font-size="10" fill="#000" color="#000" textLength="49.58" lengthAdjust="spacingAndGlyphs">18 Jul 20:00</text>
<rect x="901" y="823" width="1" height="3" fill="#000"/>
<text x="900.00" y="835.00" font-size="10" fill="#000" color="#000" textLength="49.58" lengthAdjust="spacingAndGlyphs">19 Jul 12:00</text>
<rect x="965" y="823" width="1" height="3" fill="#000"/>
<text x="964.00" y="835.00" font-size="10" fill="#000" color="#000" textLength="49.58" lengthAdjust="spacingAndGlyphs">20 Jul 04:00</text>
<rect x="1029" y="823" width="1" height="3" fill="#000"/>
<text x="1028.00" y="835.00" font-size="10" fill="#000" color="#000" textLength="49.58" lengthAdjust="spacingAndGlyphs">20 Jul 20:00</text>
<rect x="1093" y="823" width="1" height="3" fill="#000"/>
<text x="1092.00" y="835.00" font-size="10" fill="#000" color="#000" textLength="49.58" lengthAdjust="spacingAndGlyphs">21 Jul 12:00</text>
<rect x="1157" y="823" width="1" height="3" fill="#000"/>
<text x="1156.00" y="835.00" font-size="10" fill="#000" color="#000" textLength="49.58" lengthAdjust="spacingAndGlyphs">24 Jul 04:00</text>
<rect x="1221" y="823" width="1" height="3" fill="#000"/>
<text x="1220.00" y="835.00" font-size="10" fill="#000" color="#000" textLength="49.58" lengthAdjust="spacingAndGlyphs">24 Jul 20:00</text>
<rect x="1285" y="823" width="1" height="3" fill="#000"/>
<text x="1284.00" y="835.00" font-size="10" fill="#000" color="#000" textLength="49.58" lengthAdjust="spacingAndGlyphs">25 Jul 12:00</text>
<rect x="1349" y="823" width="1" height="3" fill="#000"/>
<text x="1348.00" y="835.00" font-size="10" fill="#000" color="#000" textLength="49.58" lengthAdjust="spacingAndGlyphs">26 Jul 04:00</text>
<rect x="1413" y="823" width="1" height="3" fill="#000"/>
<text x="1412.00" y="835.00" font-size="10" fill="#000" color="#000" textLength="49.58" lengthAdjust="spacingAndGlyphs">26 Jul 20:00</text>
</g>
<g id="tb">
<rect x="5" y="0" width="1" height="17" fill="#a0a0a0" shape-rendering="crispEdges"/>
<path d="M15.5 -1H23.5L27 2.5V12.5H15.5Z" fill="#fff" stroke="#8a8a8a" stroke-width="1"/>
<path d="M17.5 2H21M17.5 5.5H24M17.5 7.5H22M17.5 9.5H20" stroke="#909090" stroke-width="1"/>
<path d="M23 5.5H27V9H30.8V13H27V16.8H23V13H19.3V9H23Z" fill="#19d219" stroke="#0f9a0f" stroke-width="0.9"/>
<path d="M25 6.6V15.6M20.4 11H29.6" stroke="#7dff7d" stroke-width="1.4" opacity="0.8"/>
<text x="34" y="10" font-size="12" fill="#000" textLength="36" lengthAdjust="spacingAndGlyphs">新订单</text>
<path d="M87 0L98 6.5L97.5 9.5L89.5 14.8L82 9L86 1Z" fill="#e2aa1a" stroke="#b5780c" stroke-width="0.8"/>
<path d="M86.5 1L96.5 7L90 12.5L83 8Z" fill="#f3cf3a"/>
<path d="M83 9.2L89.6 14.2L97.3 9" stroke="#fff3c0" stroke-width="0.8" fill="none"/>
<rect x="112.3" y="-1" width="10.8" height="9" fill="#1e9bf5"/>
<path d="M115.5 0V8" stroke="#bfe3ff" stroke-width="1"/>
<rect x="117" y="2.4" width="4.5" height="1.6" fill="#e8f5ff"/>
<path d="M112.5 14.6C109.5 14.6 109.3 10.6 112.2 10.2C112.6 7.4 116.4 6.6 118 8.6C120.6 6.8 123.6 8.6 123.4 10.6C126.8 10.6 126.8 14.6 123.6 14.6Z" fill="#f4f7fb" stroke="#7f97c0" stroke-width="1"/>
<circle cx="146.4" cy="6.9" r="7.4" fill="none" stroke="#a9c3e8" stroke-width="1"/>
<circle cx="146.4" cy="6.9" r="4.6" fill="none" stroke="#7fa2dd" stroke-width="1.2"/>
<path d="M146.4 6.9L146.4 14.6A7.7 7.7 0 0 0 153.4 4Z" fill="#7fc97f" opacity="0.75"/>
<circle cx="146.3" cy="6.6" r="1.8" fill="#2a5fd0"/>
<path d="M146.6 7V14.6" stroke="#25a825" stroke-width="1.3"/>
<path d="M165.5 6.8L181 6.8L174 14.6Z" fill="#f7dc55" stroke="#d9a81e" stroke-width="0.9"/>
<ellipse cx="173" cy="4.2" rx="7.8" ry="2.6" fill="#5eaee0"/>
<path d="M169.5 4C170.5 1 170.5 -1 171 -2H175.6C176 -1 176 1 177 4Z" fill="#7cc2ea"/>
<circle cx="177.5" cy="10.6" r="4.3" fill="#d8261c"/>
<rect x="176.1" y="9.2" width="2.9" height="2.9" fill="#fff"/>
<text x="186.5" y="10" font-size="12" fill="#000" textLength="47" lengthAdjust="spacingAndGlyphs">自动交易</text>
<rect x="241" y="0" width="1" height="19" fill="#a0a0a0" shape-rendering="crispEdges"/>
<rect x="245" y="1" width="3" height="1" fill="#b4b4b4" shape-rendering="crispEdges"/>
<rect x="245" y="3" width="3" height="1" fill="#b4b4b4" shape-rendering="crispEdges"/>
<rect x="245" y="5" width="3" height="1" fill="#b4b4b4" shape-rendering="crispEdges"/>
<rect x="245" y="7" width="3" height="1" fill="#b4b4b4" shape-rendering="crispEdges"/>
<rect x="245" y="9" width="3" height="1" fill="#b4b4b4" shape-rendering="crispEdges"/>
<rect x="245" y="11" width="3" height="1" fill="#b4b4b4" shape-rendering="crispEdges"/>
<rect x="245" y="13" width="3" height="1" fill="#b4b4b4" shape-rendering="crispEdges"/>
<rect x="245" y="15" width="3" height="1" fill="#b4b4b4" shape-rendering="crispEdges"/>
<path d="M259.5 2.5V14.5M257 12.5H269" stroke="#505050" stroke-width="1.1" fill="none"/>
<path d="M257.6 3.6L259.5 0.8L261.4 3.6Z M268.2 10.6L270.8 12.5L268.2 14.4Z" fill="#505050"/>
<path d="M265.4 2.2V10.6M265.4 3.4H268M263 9.5H265.4" stroke="#128a22" stroke-width="1.2" fill="none"/>
<rect x="279" y="0" width="1" height="17" fill="#a0a0a0" shape-rendering="crispEdges"/>
<rect x="280" y="0" width="25" height="17" fill="#f9f9f9" shape-rendering="crispEdges"/>
<path d="M287.5 2.5V14.5M285 12.5H297" stroke="#505050" stroke-width="1.1" fill="none"/>
<path d="M285.6 3.6L287.5 0.8L289.4 3.6Z M296.2 10.6L298.8 12.5L296.2 14.4Z" fill="#505050"/>
<path d="M293.2 0V10.8" stroke="#0f7a1f" stroke-width="1"/>
<rect x="291" y="1.4" width="4.4" height="7" fill="#2fd84a" stroke="#0f7a1f" stroke-width="0.8"/>
<path d="M315.5 2.5V14.5M313 12.5H325" stroke="#505050" stroke-width="1.1" fill="none"/>
<path d="M313.6 3.6L315.5 0.8L317.4 3.6Z M324.2 10.6L326.8 12.5L324.2 14.4Z" fill="#505050"/>
<path d="M314.5 10C317 7 318.5 4.2 320.5 4.2C322.5 4.2 324 7 326 8.2" stroke="#2e9a3e" stroke-width="1.2" fill="none"/>
<rect x="336" y="0" width="1" height="17" fill="#a0a0a0" shape-rendering="crispEdges"/>
<path d="M355.2 9.2L359.8 13.6" stroke="#a67a10" stroke-width="3.4" stroke-linecap="butt"/>
<path d="M355.2 9.2L359.6 13.4" stroke="#ecc93a" stroke-width="1.8" stroke-linecap="butt"/>
<circle cx="351" cy="4.8" r="5.6" fill="#d9f0fa" stroke="#3f84c4" stroke-width="1.2"/>
<path d="M348 5H354" stroke="#3a86b4" stroke-width="1.6"/>
<path d="M351 2V8" stroke="#3a86b4" stroke-width="1.6"/>
<path d="M383.2 9.2L387.8 13.6" stroke="#a67a10" stroke-width="3.4" stroke-linecap="butt"/>
<path d="M383.2 9.2L387.6 13.4" stroke="#ecc93a" stroke-width="1.8" stroke-linecap="butt"/>
<circle cx="379" cy="4.8" r="5.6" fill="#d9f0fa" stroke="#3f84c4" stroke-width="1.2"/>
<path d="M376 5H382" stroke="#3a86b4" stroke-width="1.6"/>
<rect x="401" y="-1" width="8" height="7.6" fill="#2f9a14"/><rect x="409" y="-1" width="8" height="7.6" fill="#2a5fd6"/>
<rect x="401" y="7" width="8" height="7.8" fill="#2a5fd6"/><rect x="409" y="7" width="8" height="7.8" fill="#2f9a14"/>
<path d="M402 2H408V6H402ZM410.5 2H416.2V6H410.5ZM402 10.2H408V14H402ZM410.5 10.2H416.2V14H410.5Z" fill="#fff"/>
<path d="M403 3.6H407M411.5 3.6H415.2M403 11.8H407M411.5 11.8H415.2" stroke="#9fc0ee" stroke-width="1"/>
<rect x="426" y="0" width="1" height="17" fill="#a0a0a0" shape-rendering="crispEdges"/>
<rect x="431" y="0" width="1" height="17" fill="#a0a0a0" shape-rendering="crispEdges"/>
<rect x="432" y="0" width="25" height="17" fill="#f9f9f9" shape-rendering="crispEdges"/>
<path d="M439.5 2.5V14.5M437 12.5H449" stroke="#505050" stroke-width="1.1" fill="none"/>
<path d="M437.6 3.6L439.5 0.8L441.4 3.6Z M448.2 10.6L450.8 12.5L448.2 14.4Z" fill="#505050"/>
<path d="M444 3.5L447.6 6.5L444 9.5Z" fill="#6fdc6f" stroke="#1f9a2f" stroke-width="0.9"/>
<rect x="459" y="0" width="1" height="17" fill="#a0a0a0" shape-rendering="crispEdges"/>
<rect x="460" y="0" width="25" height="17" fill="#f9f9f9" shape-rendering="crispEdges"/>
<path d="M467.5 2.5V14.5M465 12.5H477" stroke="#505050" stroke-width="1.1" fill="none"/>
<path d="M465.6 3.6L467.5 0.8L469.4 3.6Z M476.2 10.6L478.8 12.5L476.2 14.4Z" fill="#505050"/>
<path d="M473.5 1V10.5" stroke="#2d6fb0" stroke-width="1"/>
<path d="M478.5 6.5H474.8M476.8 4.6L474.6 6.5L476.8 8.4" stroke="#d8421a" stroke-width="1.1" fill="none"/>
<rect x="488" y="0" width="1" height="17" fill="#a0a0a0" shape-rendering="crispEdges"/>
<path d="M498.5 1H501V-1H506.5L509.5 2V12H498.5Z" fill="#fff" stroke="#8a8a8a" stroke-width="1"/>
<path d="M506 5.5H510V9H513.8V13H510V16.8H506V13H502.3V9H506Z" fill="#19d219" stroke="#0f9a0f" stroke-width="0.9"/>
<path d="M508 6.6V15.6M503.4 11H512.6" stroke="#7dff7d" stroke-width="1.4" opacity="0.8"/>
<polygon points="519.4,6 524.8,6 522.1,9" fill="#000"/>
<circle cx="543.8" cy="6.6" r="7.6" fill="#2f7fe0" stroke="#1c55b0" stroke-width="0.8"/>
<circle cx="543.8" cy="6.6" r="5.7" fill="#f1f3f6"/>
<path d="M543.4 3V6.6H546.6" stroke="#333" stroke-width="1.1" fill="none"/>
<polygon points="558.4,6 563.8,6 561.1,9" fill="#000"/>
<rect x="575.5" y="0" width="15" height="13" fill="#fff" stroke="#3a6fc0" stroke-width="1"/>
<rect x="575" y="-1" width="16" height="2.6" fill="#3a78d0"/>
<path d="M577 6L580 5L583 5.6L586 4L589 4.4" stroke="#a82408" stroke-width="1.3" fill="none"/>
<path d="M575.5 8H590.5" stroke="#9ab7e0" stroke-width="0.8"/>
<path d="M577 11.6L580 10.6L583 11.4L586 9.6L589 11" stroke="#168a2a" stroke-width="1.3" fill="none"/>
<polygon points="597.4,6 602.8,6 600.1,9" fill="#000"/>
<rect x="609" y="0" width="1" height="19" fill="#a0a0a0" shape-rendering="crispEdges"/>
<rect x="613" y="1" width="3" height="1" fill="#b4b4b4" shape-rendering="crispEdges"/>
<rect x="613" y="3" width="3" height="1" fill="#b4b4b4" shape-rendering="crispEdges"/>
<rect x="613" y="5" width="3" height="1" fill="#b4b4b4" shape-rendering="crispEdges"/>
<rect x="613" y="7" width="3" height="1" fill="#b4b4b4" shape-rendering="crispEdges"/>
<rect x="613" y="9" width="3" height="1" fill="#b4b4b4" shape-rendering="crispEdges"/>
<rect x="613" y="11" width="3" height="1" fill="#b4b4b4" shape-rendering="crispEdges"/>
<rect x="613" y="13" width="3" height="1" fill="#b4b4b4" shape-rendering="crispEdges"/>
<rect x="613" y="15" width="3" height="1" fill="#b4b4b4" shape-rendering="crispEdges"/>
<rect x="619" y="0" width="1" height="17" fill="#a0a0a0" shape-rendering="crispEdges"/>
<rect x="620" y="0" width="25" height="17" fill="#f9f9f9" shape-rendering="crispEdges"/>
<path d="M627.3 0V11.4L630 9L632.2 13.8L634.2 12.9L632 8.2L635.6 8.2Z" fill="#444"/>
<path d="M659.5 0V6M659.5 9V15M652 7.5H658M661 7.5H667" stroke="#505050" stroke-width="1"/>
<rect x="676" y="0" width="1" height="17" fill="#a0a0a0" shape-rendering="crispEdges"/>
<path d="M693.5 1V14" stroke="#505050" stroke-width="1"/>
<path d="M716 7.5H728" stroke="#505050" stroke-width="1"/>
<path d="M743.5 14L756.5 1.6" stroke="#505050" stroke-width="1"/>
<path d="M769.8 8.8L778.6 1M774.6 14L784.2 5.2" stroke="#505050" stroke-width="1" fill="none"/>
<path d="M772.2 12.6L773 6M775.4 11.6L776.6 3.4M778.6 9.6L779.8 1.2M781.6 7.4L782 0" stroke="#505050" stroke-width="1.1" fill="none"/>
<text x="780.3" y="16" font-size="7" font-weight="bold" fill="#404040">E</text>
<path d="M799 0.5H812" stroke="#505050" stroke-width="1" stroke-dasharray="1 1"/>
<path d="M799 3.5H812" stroke="#505050" stroke-width="1" stroke-dasharray="1 1"/>
<path d="M799 7.5H812" stroke="#505050" stroke-width="1" stroke-dasharray="1 1"/>
<path d="M799 11.5H808" stroke="#505050" stroke-width="1" stroke-dasharray="1 1"/>
<text x="808.6" y="16" font-size="7" font-weight="bold" fill="#404040">F</text>
<text x="829.6" y="12" font-size="13" font-weight="bold" fill="#6a6a6a" textLength="9" lengthAdjust="spacingAndGlyphs">A</text>
<path d="M856.5 0.5H868M856.5 13.5H868M856.5 1V13.5M867.5 1V13.5" fill="none" stroke="#707070" stroke-width="1" stroke-dasharray="1 1" shape-rendering="crispEdges"/>
<text x="858.2" y="11.4" font-size="11.5" fill="#505050" textLength="8" lengthAdjust="spacingAndGlyphs">T</text>
<path d="M883.5 4.2L886.5 1.2L889.5 4.2L886.5 5.6Z" fill="#404040"/>
<path d="M890.5 10.4L893.5 8.4L896.8 10.4L893.5 13.8Z" fill="#404040"/>
<path d="M885.5 7.5L887.5 9.8L891.5 5.2" stroke="#404040" stroke-width="1.2" fill="none"/>
<polygon points="903.9,6 909.3,6 906.6,9" fill="#000"/>
<rect x="915" y="0" width="1" height="19" fill="#a0a0a0" shape-rendering="crispEdges"/>
<rect x="919" y="1" width="3" height="1" fill="#b4b4b4" shape-rendering="crispEdges"/>
<rect x="919" y="3" width="3" height="1" fill="#b4b4b4" shape-rendering="crispEdges"/>
<rect x="919" y="5" width="3" height="1" fill="#b4b4b4" shape-rendering="crispEdges"/>
<rect x="919" y="7" width="3" height="1" fill="#b4b4b4" shape-rendering="crispEdges"/>
<rect x="919" y="9" width="3" height="1" fill="#b4b4b4" shape-rendering="crispEdges"/>
<rect x="919" y="11" width="3" height="1" fill="#b4b4b4" shape-rendering="crispEdges"/>
<rect x="919" y="13" width="3" height="1" fill="#b4b4b4" shape-rendering="crispEdges"/>
<rect x="919" y="15" width="3" height="1" fill="#b4b4b4" shape-rendering="crispEdges"/>
<rect x="1065" y="0" width="1" height="17" fill="#a0a0a0" shape-rendering="crispEdges"/>
<rect x="1066" y="0" width="25" height="17" fill="#f9f9f9" shape-rendering="crispEdges"/>
<text x="930.5" y="11" font-size="10.2" fill="#303030" stroke="#303030" stroke-width="0.2" textLength="12.5" lengthAdjust="spacingAndGlyphs">M1</text>
<text x="958" y="11" font-size="10.2" fill="#303030" stroke="#303030" stroke-width="0.2" textLength="13" lengthAdjust="spacingAndGlyphs">M5</text>
<text x="984.5" y="11" font-size="10.2" fill="#303030" stroke="#303030" stroke-width="0.2" textLength="18" lengthAdjust="spacingAndGlyphs">M15</text>
<text x="1012.5" y="11" font-size="10.2" fill="#303030" stroke="#303030" stroke-width="0.2" textLength="18" lengthAdjust="spacingAndGlyphs">M30</text>
<text x="1043.5" y="11" font-size="10.2" fill="#303030" stroke="#303030" stroke-width="0.2" textLength="12" lengthAdjust="spacingAndGlyphs">H1</text>
<text x="1070.5" y="11" font-size="10.2" fill="#303030" stroke="#303030" stroke-width="0.2" textLength="12.5" lengthAdjust="spacingAndGlyphs">H4</text>
<text x="1099.5" y="11" font-size="10.2" fill="#303030" stroke="#303030" stroke-width="0.2" textLength="11.5" lengthAdjust="spacingAndGlyphs">D1</text>
<text x="1127" y="11" font-size="10.2" fill="#303030" stroke="#303030" stroke-width="0.2" textLength="14" lengthAdjust="spacingAndGlyphs">W1</text>
<text x="1153.5" y="11" font-size="10.2" fill="#303030" stroke="#303030" stroke-width="0.2" textLength="15" lengthAdjust="spacingAndGlyphs">MN</text>
<rect x="1176" y="0" width="1" height="19" fill="#a0a0a0" shape-rendering="crispEdges"/>
<path d="M1639 11.2L1644 6.2" stroke="#2f62c8" stroke-width="2.2" stroke-linecap="round"/>
<circle cx="1646.8" cy="3.2" r="3.6" fill="#fff" stroke="#2f62c8" stroke-width="1.4"/>
<path d="M1666.4 15.4L1667.2 12.6C1664.6 11.8 1663.4 10 1663.4 8.4C1663.4 5.6 1666 4 1669 4C1672.2 4 1674.8 5.8 1674.8 8.4C1674.8 11 1672.4 12.8 1669.2 12.8Z" fill="#eeeef4" stroke="#b4b4b4" stroke-width="0.9"/>
<circle cx="1677.4" cy="2.8" r="8.3" fill="#dd3418"/>
<text x="1673.6" y="9" font-size="13" fill="#fff" stroke="#fff" stroke-width="0.3">1</text>
</g>
</svg>
</body></html>
